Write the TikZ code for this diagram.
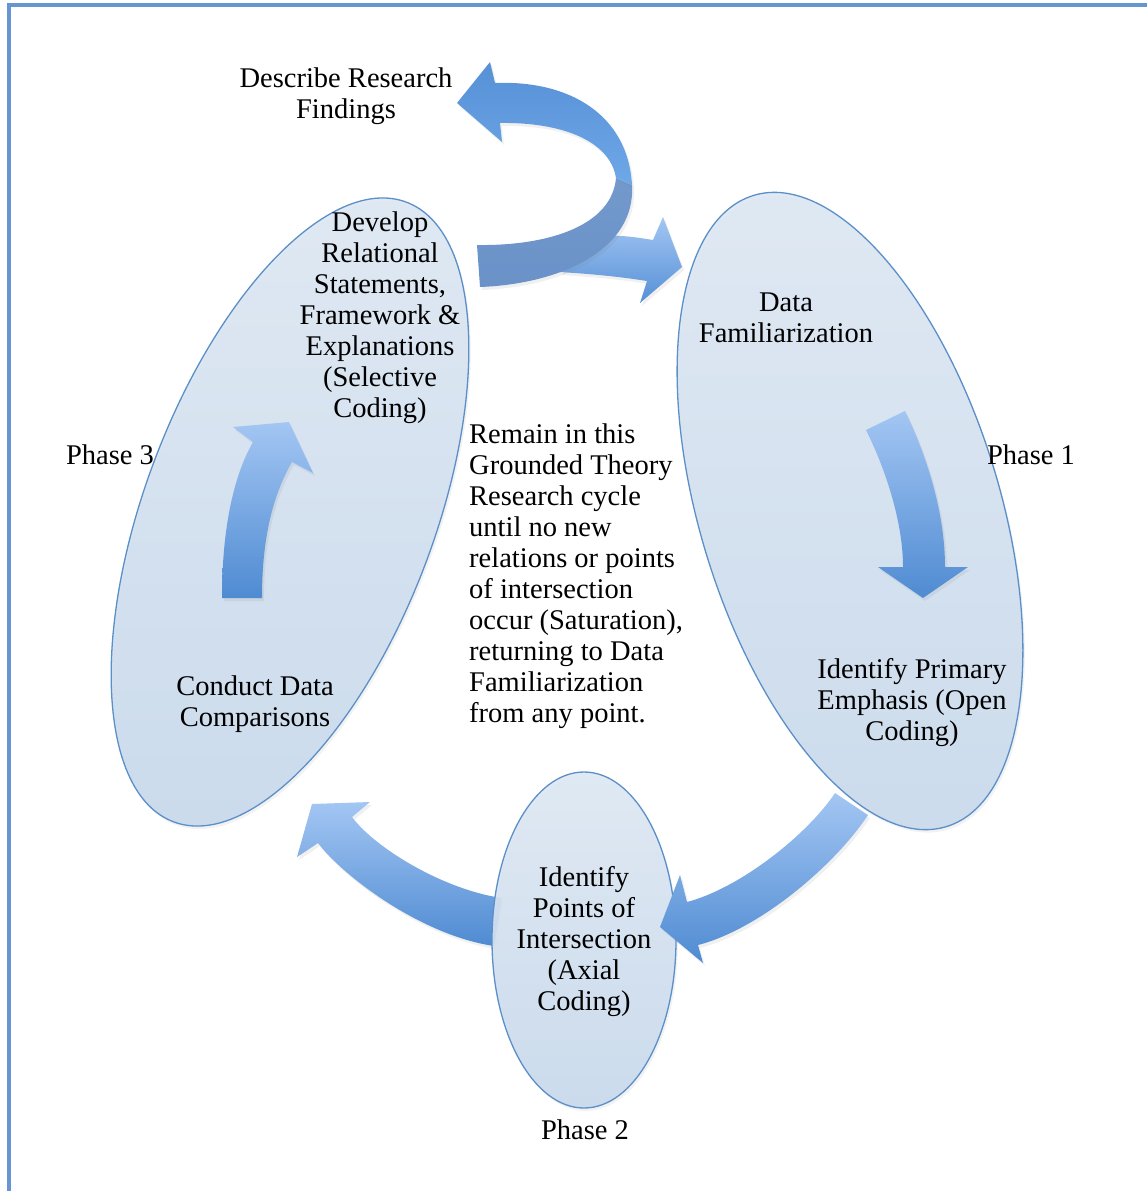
\documentclass[tikz,border=0pt]{standalone}
\usepackage{fontspec}
\setmainfont{Liberation Serif}
\usetikzlibrary{shapes.geometric,shadows}
\definecolor{frameblue}{HTML}{6596CF}
\definecolor{ellline}{HTML}{5B8FC8}
\definecolor{elltop}{HTML}{DEE8F3}
\definecolor{ellbot}{HTML}{C8D9EC}
\definecolor{arrlight}{HTML}{A3C6F3}
\definecolor{arrdark}{HTML}{4F8BD2}
\definecolor{ribtop}{HTML}{6FA8E8}
\definecolor{ribbot}{HTML}{5690D6}
\definecolor{ribgray}{HTML}{7399CC}
\definecolor{ribgray2}{HTML}{6A92C8}
\tikzset{
  frameline/.style={draw=frameblue, line width=3.5pt},
  phaseell/.style={ellipse, draw=ellline, line width=1.3pt, top color=elltop, bottom color=ellbot,
     inner sep=0pt, fill opacity=0.92, drop shadow={shadow xshift=2pt, shadow yshift=-3pt, opacity=0.1}},
  blockarrow/.style={top color=arrlight, bottom color=arrdark,
     drop shadow={shadow xshift=2pt, shadow yshift=-3pt, opacity=0.12}},
  lbl/.style={font=\fontsize{28.5}{31}\selectfont, align=center, inner sep=0pt, text=black},
}
\begin{document}
\begin{tikzpicture}[x=1pt, y=-1pt]
\useasboundingbox (0,0) rectangle (1147,1191);
\draw[frameline] (9,1191) -- (9,5) -- (1147,5);

% phase ellipses
\node[phaseell, minimum width=300pt, minimum height=660pt, rotate=17] (p1) at (850,511) {};
\node[phaseell, minimum width=290pt, minimum height=662pt, rotate=-20.6] (p3) at (290,512) {};

% arrow inside phase 3 (up)
\path[blockarrow] (222,598) .. controls (222,530) and (233,477) .. (253,442) -- (233,427) -- (289,422)
  -- (313,473) -- (292,462) .. controls (272,497) and (262,540) .. (262,598) -- cycle;

% arrow inside phase 1 (down)
\path[blockarrow] (866,430) .. controls (884,466) and (903,520) .. (903,567) -- (878,567) -- (923,598)
  -- (968,567) -- (945,567) .. controls (945,510) and (925,452) .. (905,411) -- cycle;

% branch from ribbon to phase 1
\path[blockarrow, top color=arrlight, bottom color=ribbot] (585,236) .. controls (615,234) and (635,237) .. (653,240)
  -- (663,217) -- (682,267) -- (640,303) -- (647,281) .. controls (615,276) and (590,274) .. (560,272) -- cycle;

% ribbon: lower band
\path[blockarrow, top color=ribgray, bottom color=ribgray2] (632,185) .. controls (636,250) and (560,284) .. (480,287)
  -- (477,245) .. controls (550,246) and (612,225) .. (616,178) -- cycle;

% ribbon: upper band with head
\path[blockarrow, top color=ribbot, bottom color=ribtop] (457,103) -- (490,62) -- (495,83)
  .. controls (570,80) and (628,115) .. (632,185) -- (616,178)
  .. controls (610,140) and (560,122) .. (500,123) -- (502,142) -- cycle;

% arrow from phase 2 to phase 3 (under phase 2)
\path[blockarrow] (352,817) .. controls (376,849) and (445,890) .. (502,898) -- (494,946)
  .. controls (420,935) and (342,875) .. (318,843) -- (297,857) -- (312,804) -- (370,802) -- cycle;

\node[phaseell, minimum width=184pt, minimum height=336pt] (p2) at (584,940) {};

% arrow from phase 1 to phase 2
\path[blockarrow] (835,793) .. controls (807,835) and (740,888) .. (687,902) -- (680,875) -- (660,927)
  -- (703,963) -- (698,945) .. controls (760,929) and (835,865) .. (868,815) -- cycle;

% texts
\node[lbl] (desc) at (346,96) {Describe Research\\Findings};
\node[lbl] (t3a) at (380,318) {Develop\\Relational\\Statements,\\Framework \&\\Explanations\\(Selective\\Coding)};
\node[lbl] (t3b) at (255,704) {Conduct Data\\Comparisons};
\node[lbl] (ph3) at (110,455) {Phase 3};
\node[lbl, align=left, anchor=west] (note) at (469,576) {Remain in this\\Grounded Theory\\Research cycle\\until no new\\relations or points\\of intersection\\occur (Saturation),\\returning to Data\\Familiarization\\from any point.};
\node[lbl] (t1a) at (786,318) {Data\\Familiarization};
\node[lbl] (t1b) at (912,703) {Identify Primary\\Emphasis (Open\\Coding)};
\node[lbl] (ph1) at (1031,455) {Phase 1};
\node[lbl] (t2) at (584,942) {Identify\\Points of\\Intersection\\(Axial\\Coding)};
\node[lbl] (ph2) at (585,1130) {Phase 2};
\end{tikzpicture}
\end{document}
